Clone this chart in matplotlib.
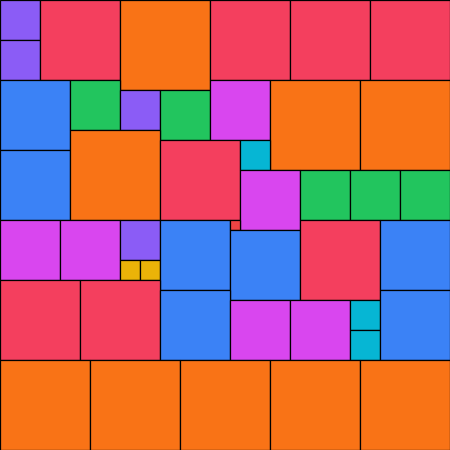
import matplotlib
matplotlib.use("Agg")
import matplotlib.pyplot as plt
from matplotlib.patches import Rectangle

# square packing: left, top, side (pixel units of a 450x450 canvas)
xs = [0, 0, 40, 120, 210, 290, 370,
      0, 70, 120, 160, 210, 270, 360,
      0, 70, 160, 240, 240, 300, 350, 400,
      0, 60, 120, 120, 140, 160, 230, 230, 300, 380,
      0, 80, 160, 230, 290, 350, 350, 380,
      0, 90, 180, 270, 360]
ys = [0, 40, 0, 0, 0, 0, 0,
      80, 80, 90, 90, 80, 80, 80,
      150, 130, 140, 140, 170, 170, 170, 170,
      220, 220, 220, 260, 260, 220, 220, 230, 220, 220,
      280, 280, 290, 300, 300, 300, 330, 290,
      360, 360, 360, 360, 360]
sizes = [40, 40, 80, 90, 80, 80, 80,
         70, 50, 40, 50, 60, 90, 90,
         70, 90, 80, 30, 60, 50, 50, 50,
         60, 60, 40, 20, 20, 70, 10, 70, 80, 70,
         80, 80, 70, 60, 60, 30, 30, 70,
         90, 90, 90, 90, 90]
size_colors = {10: "#EF4444", 20: "#EAB308", 30: "#06B6D4", 40: "#8B5CF6",
               50: "#22C55E", 60: "#D946EF", 70: "#3B82F6", 80: "#F43F5E",
               90: "#F97316"}

fig = plt.figure(figsize=(4.5, 4.5), dpi=100)
ax = fig.add_axes([0, 0, 1, 1])
ax.set_xlim(0, 450)
ax.set_ylim(450, 0)
ax.axis("off")
order = sorted(range(len(sizes)), key=lambda i: sizes[i])
for i in range(len(sizes)):
    ax.add_patch(Rectangle((xs[i], ys[i]), sizes[i], sizes[i],
                           facecolor=size_colors[sizes[i]], edgecolor="black",
                           linewidth=0.9))
fig.savefig("out.png", dpi=100)
